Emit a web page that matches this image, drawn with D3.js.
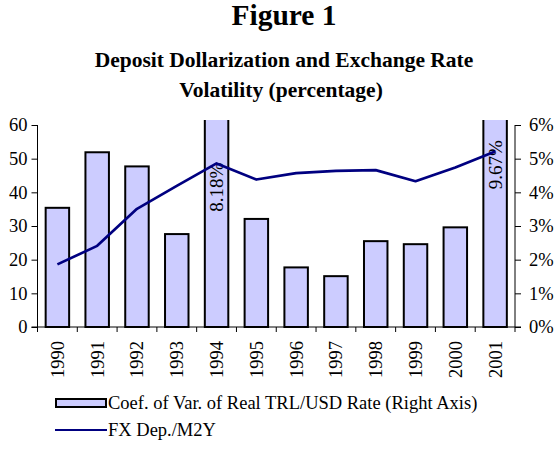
<!DOCTYPE html>
<html>
<head>
<meta charset="utf-8">
<script src="https://cdn.jsdelivr.net/npm/d3@7"></script>
<style>
  body { margin: 0; background: #fff; }
  svg text { font-family: "Liberation Serif", "Times New Roman", serif; fill: #000; }
</style>
</head>
<body>
<div id="chart"></div>
<script>
"use strict";

// data
var years = ["1990", "1991", "1992", "1993", "1994", "1995", "1996", "1997", "1998", "1999", "2000", "2001"];
var coefVar = [3.54, 5.19, 4.77, 2.76, 8.18, 3.21, 1.77, 1.51, 2.55, 2.46, 2.96, 9.67];
var fxDep = [18.6, 24.1, 35.1, 41.9, 48.6, 43.8, 45.7, 46.4, 46.6, 43.3, 47.4, 52.1];
var leftTicks = [0, 10, 20, 30, 40, 50, 60];
var rightTicks = [0, 1, 2, 3, 4, 5, 6];
var barLabel = "Coef. of Var. of Real TRL/USD Rate (Right Axis)";
var lineLabel = "FX Dep./M2Y";

(function() {
  // declarations
  var width = 557, height = 450;
  var margin = {top: 125, right: 42, bottom: 123, left: 37.5};
  var fontSize = "18.5px";
  var svg, g, x, yL, yR, innerW, innerH, line, labelEnd;

  innerW = width - margin.left - margin.right;
  innerH = height - margin.top - margin.bottom;

  svg = d3.select("#chart").append("svg")
    .attr("width", width)
    .attr("height", height);

  // titles
  svg.append("text")
    .attr("x", 284).attr("y", 25)
    .attr("text-anchor", "middle")
    .style("font-size", "29.5px").style("font-weight", "bold")
    .text("Figure 1");
  svg.append("text")
    .attr("x", 284).attr("y", 67)
    .attr("text-anchor", "middle")
    .style("font-size", "21.5px").style("font-weight", "bold")
    .text("Deposit Dollarization and Exchange Rate");
  svg.append("text")
    .attr("x", 281).attr("y", 97)
    .attr("text-anchor", "middle")
    .style("font-size", "21.5px").style("font-weight", "bold")
    .text("Volatility (percentage)");

  g = svg.append("g")
    .attr("transform", "translate(" + margin.left + "," + margin.top + ")");

  // scales
  x = d3.scaleBand().domain(years).range([0, innerW]).paddingInner(0.41).paddingOuter(0.205);
  yL = d3.scaleLinear().domain([0, 60]).range([innerH, 0]);
  yR = d3.scaleLinear().domain([0, 6]).range([innerH, 0]);

  // clip for the bars that run off the top
  svg.append("defs").append("clipPath").attr("id", "plot-clip")
    .append("rect")
    .attr("x", -5).attr("y", -5)
    .attr("width", innerW + 10).attr("height", innerH + 10);

  // bars
  g.append("g").attr("clip-path", "url(#plot-clip)")
    .selectAll("rect")
    .data(coefVar)
    .enter()
    .append("rect")
    .attr("x", function(d, i) { return x(years[i]); })
    .attr("y", function(d) { return yR(d); })
    .attr("width", x.bandwidth())
    .attr("height", function(d) { return innerH - yR(d); })
    .attr("fill", "#ccccff")
    .attr("stroke", "#000")
    .attr("stroke-width", 2);

  // labels on the bars that run off the top
  labelEnd = {"1994": 4.88, "2001": 5.55};
  g.selectAll(".bar-label")
    .data(coefVar.map(function(d, i) { return {v: d, year: years[i]}; })
      .filter(function(d) { return d.v > 6; }))
    .enter()
    .append("text")
    .attr("class", "bar-label")
    .attr("transform", function(d) {
      return "translate(" + (x(d.year) + x.bandwidth() / 2) + "," + yR(labelEnd[d.year]) + ") rotate(-90)";
    })
    .attr("dy", "0.35em")
    .attr("text-anchor", "end")
    .style("font-size", "19px")
    .text(function(d) { return d.v.toFixed(2) + "%"; });

  // line
  line = d3.line()
    .x(function(d, i) { return x(years[i]) + x.bandwidth() / 2; })
    .y(function(d) { return yL(d); });

  g.append("path")
    .datum(fxDep)
    .attr("d", line)
    .attr("fill", "none")
    .attr("stroke", "#000080")
    .attr("stroke-width", 2.7)
    .attr("stroke-linejoin", "round");

  // axes
  g.append("g")
    .call(d3.axisLeft(yL).tickValues(leftTicks).tickSize(6).tickPadding(4))
    .call(function(a) {
      a.select(".domain").attr("d", "M0," + innerH + "V0");
      a.selectAll("text").style("font-size", fontSize).style("font-family", "Liberation Serif");
    });

  g.append("g")
    .attr("transform", "translate(" + innerW + ",0)")
    .call(d3.axisRight(yR).tickValues(rightTicks).tickSize(6).tickPadding(8)
      .tickFormat(function(d) { return d + "%"; }))
    .call(function(a) {
      a.select(".domain").attr("d", "M0," + innerH + "V0");
      a.selectAll("text").style("font-size", fontSize).style("font-family", "Liberation Serif");
    });

  // x axis, ticks between the categories
  g.append("line")
    .attr("x1", -6).attr("x2", innerW + 6)
    .attr("y1", innerH).attr("y2", innerH)
    .attr("stroke", "#000");

  g.selectAll(".xtick")
    .data(d3.range(years.length + 1))
    .enter()
    .append("line")
    .attr("class", "xtick")
    .attr("x1", function(i) { return i * x.step(); })
    .attr("x2", function(i) { return i * x.step(); })
    .attr("y1", innerH).attr("y2", innerH + 5)
    .attr("stroke", "#000");

  g.selectAll(".xlabel")
    .data(years)
    .enter()
    .append("text")
    .attr("class", "xlabel")
    .attr("transform", function(d) {
      return "translate(" + (x(d) + x.bandwidth() / 2) + "," + (innerH + 14) + ") rotate(-90)";
    })
    .attr("dy", "0.35em")
    .attr("text-anchor", "end")
    .style("font-size", fontSize)
    .text(function(d) { return d; });

  // legend
  svg.append("rect")
    .attr("x", 56).attr("y", 399)
    .attr("width", 50).attr("height", 8)
    .attr("fill", "#ccccff")
    .attr("stroke", "#000")
    .attr("stroke-width", 2);
  svg.append("text")
    .attr("x", 108).attr("y", 409)
    .style("font-size", fontSize)
    .text(barLabel);
  svg.append("line")
    .attr("x1", 55).attr("x2", 107)
    .attr("y1", 430).attr("y2", 430)
    .attr("stroke", "#000080")
    .attr("stroke-width", 2);
  svg.append("text")
    .attr("x", 108).attr("y", 436)
    .style("font-size", fontSize)
    .text(lineLabel);
})();
</script>
</body>
</html>
